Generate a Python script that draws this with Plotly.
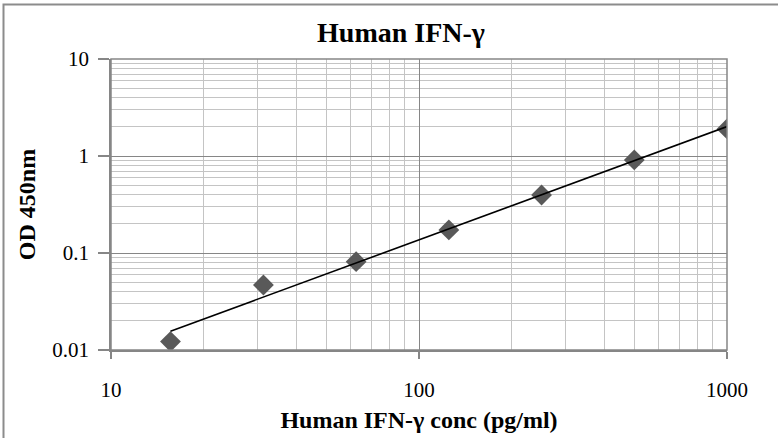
import numpy as np
import plotly.graph_objects as go

conc = [15.6, 31.25, 62.5, 125, 250, 500, 1000]
od = [0.0122, 0.0468, 0.0813, 0.173, 0.396, 0.91, 1.90]
x_ticks = [10, 100, 1000]
y_ticks = [0.01, 0.1, 1, 10]
y_tick_text = ["0.01", "0.1", "1", "10"]

# power trend line (least squares in log-log space)
lx, ly = np.log10(conc), np.log10(od)
b, a = np.polyfit(lx, ly, 1)
fit_x = [conc[0], conc[-1]]
fit_y = [10 ** (a + b * np.log10(v)) for v in fit_x]

SERIF = "Liberation Serif"
MAJ = "#868686"
MIN = "#c4c4c4"

fig = go.Figure()
fig.add_trace(go.Scatter(x=conc, y=od, mode="markers",
                         marker=dict(symbol="diamond", size=16, color="#595959",
                                     line=dict(width=0)),
                         showlegend=False))
fig.add_trace(go.Scatter(x=fit_x, y=fit_y, mode="lines",
                         line=dict(color="black", width=1.6), showlegend=False))

fig.update_layout(
    width=778, height=438,
    margin=dict(l=111, r=51, t=59, b=88),
    paper_bgcolor="white", plot_bgcolor="white",
    title=dict(text="<b>Human IFN-γ</b>", x=401 / 778, xanchor="center",
               y=1 - 32 / 438, yanchor="middle",
               font=dict(family=SERIF, size=28, color="black")),
    xaxis=dict(type="log", range=[1, 3], tickvals=x_ticks,
               ticktext=[str(v) for v in x_ticks], automargin=False,
               ticks="outside", ticklen=7, tickcolor=MAJ, tickwidth=1.5,
               showline=True, linecolor=MAJ, linewidth=1.5, mirror=False,
               showgrid=True, gridcolor=MAJ, gridwidth=1.3,
               minor=dict(showgrid=True, gridcolor=MIN, gridwidth=1.3,
                          dtick="D1", ticks=""),
               tickfont=dict(family=SERIF, size=21, color="black"),
               ticklabelstandoff=13,
               title=dict(text="<b>Human IFN-γ conc (pg/ml)</b>", standoff=10,
                          font=dict(family=SERIF, size=24, color="black")),
               zeroline=False),
    yaxis=dict(type="log", range=[-2, 1], tickvals=y_ticks, ticktext=y_tick_text,
               automargin=False,
               ticks="outside", ticklen=11, tickcolor=MAJ, tickwidth=1.5,
               showline=True, linecolor=MAJ, linewidth=1.5,
               showgrid=True, gridcolor=MAJ, gridwidth=1.3,
               minor=dict(showgrid=True, gridcolor=MIN, gridwidth=1.3,
                          dtick="D1", ticks=""),
               tickfont=dict(family=SERIF, size=21, color="black"),
               ticklabelstandoff=5,
               title=dict(text="<b>OD 450nm</b>", standoff=10,
                          font=dict(family=SERIF, size=24, color="black")),
               zeroline=False),
)

# outer chart frame (only top/left edges visible in the cropped image)
fig.add_shape(type="rect", xref="paper", yref="paper",
              x0=(3.5 - 111) / 616, x1=(800 - 111) / 616,
              y0=(350 - 460) / 291, y1=(350 - 4.5) / 291,
              line=dict(color="#8c8c8c", width=2), layer="below")
# top & right plot-area border
fig.add_shape(type="rect", xref="paper", yref="paper", x0=0, x1=1, y0=0, y1=1,
              line=dict(color=MAJ, width=1.5), layer="above")

fig.write_html("out.html", config={"displayModeBar": False},
               post_script="document.body.style.margin='0';"
                           "document.body.style.overflow='hidden';")
